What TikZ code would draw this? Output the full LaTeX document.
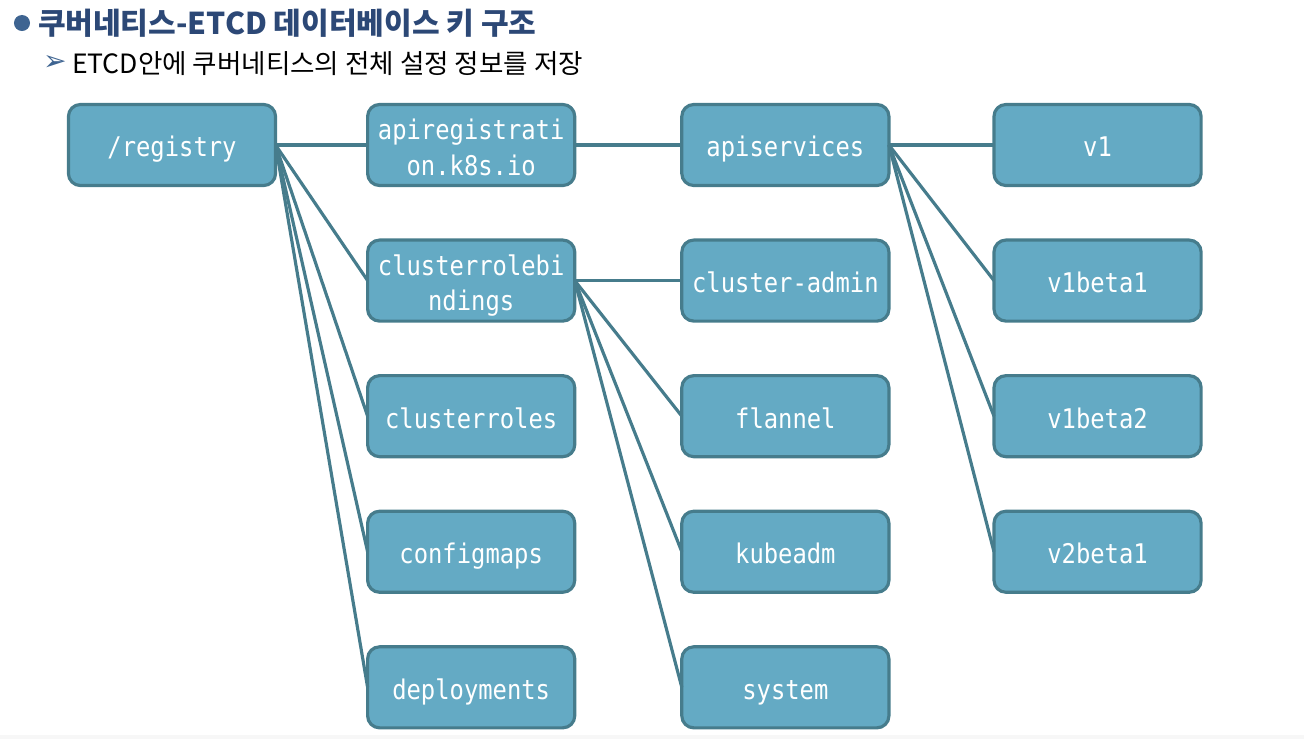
\documentclass[tikz,border=0pt]{standalone}
\usepackage{fontspec}
\setmonofont[FakeStretch=0.88]{DejaVu Sans Mono}
\newfontfamily\cjk{Noto Sans CJK KR}
\newfontfamily\symfont{DejaVu Sans}
\usetikzlibrary{positioning}
\definecolor{keyfill}{RGB}{100,170,196}
\definecolor{keyline}{RGB}{70,124,140}
\definecolor{titleblue}{RGB}{44,72,118}
\definecolor{dotblue}{RGB}{62,100,145}

\begin{document}
\begin{tikzpicture}
[x=0.01cm,y=-0.01cm,
 every node/.style={inner sep=0mm,outer sep=0mm},
 key/.style={draw=keyline,fill=keyfill,line width=0.9pt,rounded corners=3.4pt,
   minimum width=2.07cm,minimum height=0.81cm,align=center,text=white,
   text height=7.5pt,text depth=0.7pt,
   font=\ttfamily\fontsize{7.7}{10}\selectfont},
 twoline/.style={key,text height=17.8pt},
 link/.style={draw=keyline,line width=0.9pt}]
\useasboundingbox (0,0) rectangle (1304,739);
\fill[gray!6] (0,735) rectangle (1304,739);
% heading
\node[circle,fill=dotblue,minimum size=0.16cm] (dot) at (22,23) {};
\node[anchor=west,text=titleblue,font=\cjk\bfseries\fontsize{8.55}{10}\selectfont] (title) at (38,23)
  {쿠버네티스-ETCD 데이터베이스 키 구조};
\node[anchor=west,text=dotblue,font=\symfont\fontsize{8}{9}\selectfont] (arr) at (43,63) {➢};
\node[anchor=west,font=\cjk\fontsize{7.55}{9}\selectfont] (sub) at (72,64)
  {ETCD안에 쿠버네티스의 전체 설정 정보를 저장};
% keys
\node[key] (reg) at (172,145) {/registry};
\node[twoline] (apireg) [on grid,right=2.99cm of reg]      {apiregistrati\\on.k8s.io};
\node[twoline] (crb)    [on grid,below=1.355cm of apireg]  {clusterrolebi\\ndings};
\node[key] (cr)     [on grid,below=1.355cm of crb]     {clusterroles};
\node[key] (cm)     [on grid,below=1.355cm of cr]      {configmaps};
\node[key] (dep)    [on grid,below=1.355cm of cm]      {deployments};
\node[key] (apis)   [on grid,right=3.14cm of apireg]   {apiservices};
\node[key] (cadm)   [on grid,below=1.355cm of apis]    {cluster-admin};
\node[key] (fla)    [on grid,below=1.355cm of cadm]    {flannel};
\node[key] (kadm)   [on grid,below=1.355cm of fla]     {kubeadm};
\node[key] (sys)    [on grid,below=1.355cm of kadm]    {system};
\node[key] (v1)     [on grid,right=3.12cm of apis]     {v1};
\node[key] (v1b1)   [on grid,below=1.355cm of v1]      {v1beta1};
\node[key] (v1b2)   [on grid,below=1.355cm of v1b1]    {v1beta2};
\node[key] (v2b1)   [on grid,below=1.355cm of v1b2]    {v2beta1};
% links
\path[link] (reg.east)  edge (apireg.west);
\path[link] (reg.east)  edge (crb.west);
\path[link] (reg.east)  edge (cr.west);
\path[link] (reg.east)  edge (cm.west);
\path[link] (reg.east)  edge (dep.west);
\path[link] (apireg.east) edge (apis.west);
\path[link] (crb.east)  edge (cadm.west);
\path[link] (crb.east)  edge (fla.west);
\path[link] (crb.east)  edge (kadm.west);
\path[link] (crb.east)  edge (sys.west);
\path[link] (apis.east) edge (v1.west);
\path[link] (apis.east) edge (v1b1.west);
\path[link] (apis.east) edge (v1b2.west);
\path[link] (apis.east) edge (v2b1.west);
\end{tikzpicture}
\end{document}
